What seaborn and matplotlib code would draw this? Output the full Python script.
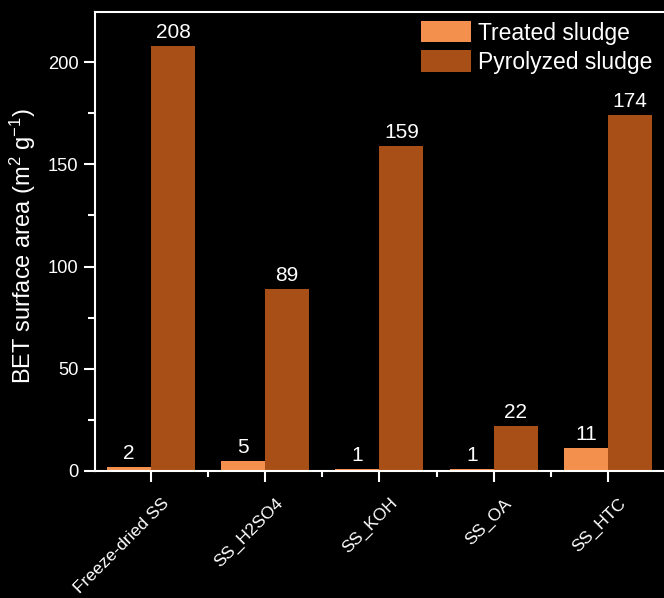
import matplotlib
matplotlib.use("Agg")
import matplotlib.pyplot as plt
from matplotlib.ticker import MultipleLocator
from matplotlib.transforms import ScaledTranslation
import pandas as pd
import seaborn as sns

samples = ["Freeze-dried SS", "SS_H2SO4", "SS_KOH", "SS_OA", "SS_HTC"]
treated = [2, 5, 1, 1, 11]
pyrolyzed = [208, 89, 159, 22, 174]
series = ["Treated sludge", "Pyrolyzed sludge"]
colors = ["#F4904E", "#A84E17"]

df = pd.DataFrame({
    "sample": samples * 2,
    "series": [series[0]] * len(samples) + [series[1]] * len(samples),
    "area": treated + pyrolyzed,
})

sns.set_style("dark")
plt.rcParams["font.family"] = ["Liberation Sans", "DejaVu Sans"]
plt.rcParams["mathtext.fontset"] = "custom"
plt.rcParams["mathtext.rm"] = "Liberation Sans"
plt.rcParams["mathtext.it"] = "Liberation Sans:italic"

fig = plt.figure(figsize=(6.64, 5.98), dpi=100, facecolor="black")
ax = fig.add_axes([0.143, 0.2124, 0.857, 0.7676])
ax.set_facecolor("black")

sns.barplot(data=df, x="sample", y="area", hue="series", order=samples,
            hue_order=series, palette=colors, width=0.77, gap=0,
            saturation=1, edgecolor="none", linewidth=0, ax=ax, legend=True)

for cont in ax.containers:
    ax.bar_label(cont, padding=3, color="white", fontsize=15)

ax.set_ylim(0, 224.5)
ax.set_xlim(-0.49, 4.49)
ax.yaxis.set_major_locator(MultipleLocator(50))
ax.yaxis.set_minor_locator(MultipleLocator(25))
ax.xaxis.set_minor_locator(MultipleLocator(0.5))
ax.grid(False)

for side in ["left", "bottom", "top"]:
    ax.spines[side].set_visible(True)
    ax.spines[side].set_color("white")
    ax.spines[side].set_linewidth(1.5)
ax.spines["right"].set_visible(False)

ax.tick_params(axis="y", which="major", direction="out", length=8, width=1.5,
               colors="white", labelsize=13.2, pad=4, left=True)
ax.tick_params(axis="y", which="minor", direction="out", length=5, width=1.5,
               colors="white", left=True)
ax.tick_params(axis="x", which="major", direction="out", length=8, width=1.5,
               colors="white", labelsize=12.6, pad=4, bottom=True)
ax.tick_params(axis="x", which="minor", direction="out", length=4, width=1.5,
               colors="white", bottom=True)
shift = ScaledTranslation(10 / 100, -8 / 100, fig.dpi_scale_trans)
for lbl in ax.get_xticklabels():
    lbl.set_rotation(45)
    lbl.set_ha("right")
    lbl.set_rotation_mode("anchor")
    lbl.set_transform(lbl.get_transform() + shift)

ax.set_xlabel("")
ax.set_ylabel("BET surface area (m$^2$ g$^{-1}$)", color="white", fontsize=17)
ax.yaxis.set_label_coords(-0.1, 0.49)

leg = ax.legend(loc="upper right", frameon=False, fontsize=16.5,
                handlelength=2.2, handleheight=1.05, handletextpad=0.3,
                labelspacing=0.25, borderaxespad=0.0, borderpad=0.3,
                bbox_to_anchor=(0.992, 0.995))
for t in leg.get_texts():
    t.set_color("white")

fig.savefig("out.png", dpi=100, facecolor="black")
